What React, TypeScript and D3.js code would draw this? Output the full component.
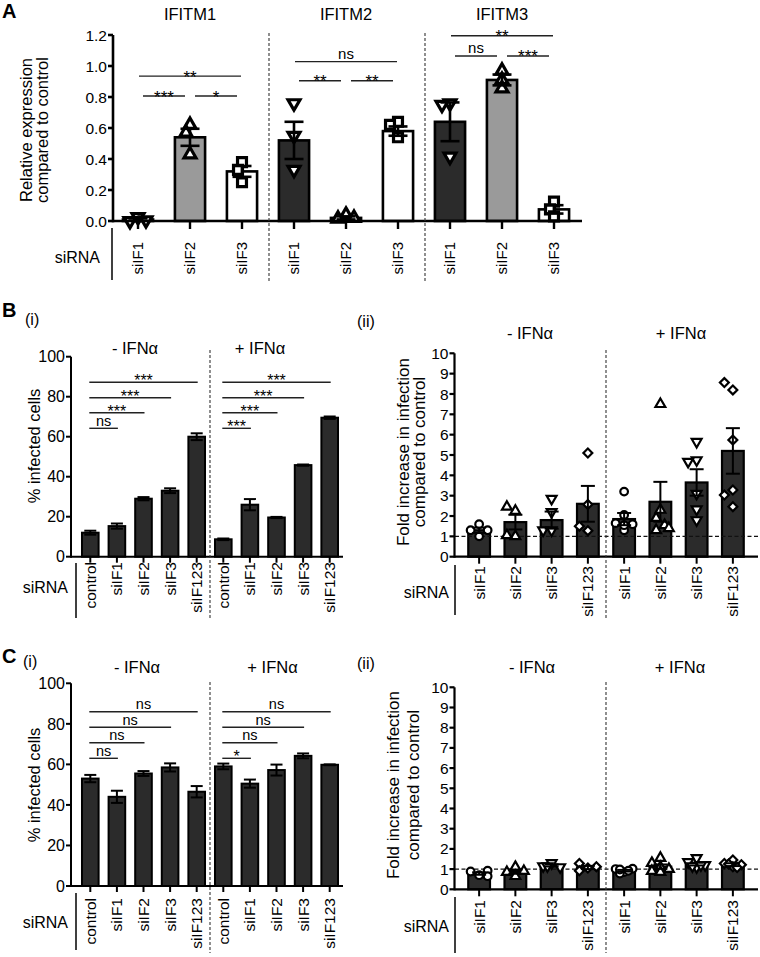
import React from "react";
import * as d3 from "d3";

const FONT = '"Liberation Sans", Arial, Helvetica, sans-serif';

// ---------------- Panel A data ----------------
const aGenes = ["IFITM1", "IFITM2", "IFITM3"];
const aSiRNA = ["siIF1", "siIF2", "siIF3"];
const aMeans = [
  [0.01, 0.54, 0.32],
  [0.52, 0.02, 0.58],
  [0.64, 0.91, 0.075],
];
const aSem = [
  [0.008, 0.055, 0.035],
  [0.12, 0.01, 0.03],
  [0.125, 0.035, 0.027],
];
const aPoints = [
  [[0.025, 0.0, 0.005], [0.62, 0.57, 0.43], [0.38, 0.33, 0.25]],
  [[0.76, 0.55, 0.33], [0.04, 0.015, 0.02], [0.64, 0.62, 0.54]],
  [[0.76, 0.75, 0.415], [0.97, 0.91, 0.855], [0.125, 0.075, 0.03]],
];
const aTicks = [0, 0.2, 0.4, 0.6, 0.8, 1.0, 1.2];
const aShapes = ["down", "up", "square"];
const aFills = ["#2b2b2b", "#9a9a9a", "#ffffff"];
// significance: gene, from, to, label, height (data units)
const aSigGene = [0, 0, 0, 1, 1, 1, 2, 2, 2];
const aSigFrom = [0, 0, 1, 0, 0, 1, 0, 0, 1];
const aSigTo = [2, 1, 2, 2, 1, 2, 2, 1, 2];
const aSigLabel = ["**", "***", "*", "ns", "**", "**", "**", "ns", "***"];
const aSigHeight = [0.935, 0.806, 0.806, 1.028, 0.905, 0.905, 1.195, 1.065, 1.065];

// ---------------- Panels B / C (i) data ----------------
const percCats = ["control", "siIF1", "siIF2", "siIF3", "siIF123"];
const percTicks = [0, 20, 40, 60, 80, 100];
const percSigTargets = [4, 3, 2, 1];

const bMinus = [12, 15.3, 29, 33, 60];
const bMinusSem = [1, 1.3, 0.8, 1.2, 1.7];
const bPlus = [8.7, 26, 19.6, 45.8, 69.5];
const bPlusSem = [0.4, 2.8, 0.3, 0.3, 0.6];
const bSigMinus = ["***", "***", "***", "ns"];
const bSigPlus = ["***", "***", "***", "***"];
const bSigHeights = [87.2, 79.5, 72, 64.2];

const cMinus = [53, 44, 55.5, 58.5, 46.5];
const cMinusSem = [1.8, 3, 1.2, 2, 2.8];
const cPlus = [59, 50.5, 57.2, 64.2, 59.8];
const cPlusSem = [1.4, 2, 2.7, 1.2, 0.2];
const cSigMinus = ["ns", "ns", "ns", "ns"];
const cSigPlus = ["ns", "ns", "ns", "*"];
const cSigHeights = [86, 78.3, 70.7, 63];

// ---------------- Panels B / C (ii) data ----------------
const foldCats = ["siIF1", "siIF2", "siIF3", "siIF123"];
const foldTicks = [0, 1, 2, 3, 4, 5, 6, 7, 8, 9, 10];
const foldShapes = ["circle", "up", "down", "diamond"];

const bFoldMinus = [1.3, 1.7, 1.8, 2.6];
const bFoldMinusSem = [0.13, 0.36, 0.42, 0.88];
const bFoldMinusPts = [
  [1.6, 1.0, 1.3, 1.3],
  [2.25, 2.45, 1.0, 1.05],
  [2.85, 2.2, 1.3, 1.3],
  [5.1, 2.57, 1.28, 1.5],
];
const bFoldPlus = [1.85, 2.7, 3.65, 5.2];
const bFoldPlusSem = [0.3, 0.98, 0.65, 1.12];
const bFoldPlusPts = [
  [3.2, 2.05, 1.3, 1.65, 1.6, 1.55],
  [7.5, 2.3, 1.9, 1.55, 1.3, 1.4],
  [5.65, 4.75, 4.67, 3.1, 2.33, 1.8],
  [8.2, 8.56, 5.74, 3.28, 3.03, 2.46],
];

const cFoldMinus = [0.78, 0.87, 1.18, 1.08];
const cFoldMinusSem = [0.06, 0.1, 0.05, 0.08];
const cFoldMinusPts = [
  [0.7, 0.88, 0.92, 0.65],
  [1.1, 0.85, 0.9, 0.65],
  [1.3, 1.15, 1.1, 1.15],
  [1.05, 1.28, 1.12, 0.92],
];
const cFoldPlus = [0.92, 1.12, 1.25, 1.22];
const cFoldPlusSem = [0.04, 0.11, 0.07, 0.07];
const cFoldPlusPts = [
  [0.85, 1.0, 1.02, 0.78, 0.98, 0.92],
  [1.55, 1.3, 1.1, 1.0, 0.9, 0.85],
  [1.55, 1.35, 1.2, 1.1, 1.15, 1.2],
  [1.45, 1.28, 1.22, 1.12, 1.25, 1.08],
];

// ---------------- helpers ----------------
function swarm(ys: number[], d: number, maxOff: number): number[] {
  const placed: { x: number; y: number }[] = [];
  const step = d * 0.5;
  const cands: number[] = [0];
  for (let k = 1; k * step <= maxOff + 0.01; k++) cands.push(-k * step, k * step);
  return ys.map((y) => {
    let best = 0;
    let bestD = -1;
    for (const off of cands) {
      const md = placed.length ? Math.min(...placed.map((p) => Math.hypot(p.x - off, p.y - y))) : Infinity;
      if (md >= d) {
        best = off;
        bestD = Infinity;
        break;
      }
      if (md > bestD + 0.5) {
        bestD = md;
        best = off;
      }
    }
    placed.push({ x: best, y });
    return best;
  });
}

function Marker({ shape, x, y, size, sw }: any) {
  const type =
    shape === "circle" ? d3.symbolCircle : shape === "square" || shape === "diamond" ? d3.symbolSquare : d3.symbolTriangle;
  const path = d3.symbol(type, size)() || "";
  const rot = shape === "down" ? 180 : shape === "diamond" ? 45 : 0;
  return (
    <path
      d={path}
      transform={`translate(${x},${y}) rotate(${rot})`}
      fill="#fff"
      stroke="#000"
      strokeWidth={sw}
      strokeLinejoin="miter"
    />
  );
}

function ErrorBar({ x, yA, yB, w, sw }: any) {
  return (
    <g stroke="#000" strokeWidth={sw}>
      <line x1={x} x2={x} y1={yA} y2={yB} />
      <line x1={x - w} x2={x + w} y1={yA} y2={yA} />
      <line x1={x - w} x2={x + w} y1={yB} y2={yB} />
    </g>
  );
}

function YAxis({ x, scale, ticks, fmt, fontSize, tickLen, sw }: any) {
  const [a, b] = scale.range();
  return (
    <g>
      <line x1={x} x2={x} y1={a + sw / 2} y2={b} stroke="#000" strokeWidth={sw} />
      {ticks.map((t: number) => (
        <g key={t}>
          <line x1={x - tickLen} x2={x} y1={scale(t)} y2={scale(t)} stroke="#000" strokeWidth={sw} />
          <text x={x - tickLen - 1} y={scale(t)} dy="0.36em" textAnchor="end" fontSize={fontSize}>
            {fmt(t)}
          </text>
        </g>
      ))}
    </g>
  );
}

function RotLabel({ x, top, text, fontSize }: any) {
  return (
    <text transform={`translate(${x},${top}) rotate(-90)`} textAnchor="end" dy="0.36em" fontSize={fontSize}>
      {text}
    </text>
  );
}

function Divider({ x, y1, y2 }: any) {
  return <line x1={x} x2={x} y1={y1} y2={y2} stroke="#333" strokeWidth={1.1} strokeDasharray="3,2" />;
}

function SigText({ x, y, label, starFont, starDy, nsFont, nsDy }: any) {
  const isNs = label === "ns";
  return (
    <text x={x} y={y + (isNs ? nsDy : starDy)} textAnchor="middle" fontSize={isNs ? nsFont : starFont}>
      {label}
    </text>
  );
}

// ---------------- Panel A ----------------
function PanelA() {
  const x = d3
    .scaleBand<number>()
    .domain(d3.range(9))
    .range([112, 580])
    .paddingInner(0.37)
    .paddingOuter(0.185);
  const y = d3.scaleLinear().domain([0, 1.2]).range([221, 35]);
  const bw = x.bandwidth();
  const cx = (i: number) => (x(i) as number) + bw / 2;
  const items = aGenes.flatMap((g, gi) =>
    aSiRNA.map((s, si) => ({ gi, si, idx: gi * 3 + si, label: s, m: aMeans[gi][si], e: aSem[gi][si], pts: aPoints[gi][si] }))
  );
  const sw = 2.6;
  return (
    <g>
      <text x={2} y={18} fontSize={20} fontWeight="bold">A</text>
      {aGenes.map((g, gi) => (
        <text key={g} x={cx(gi * 3 + 1)} y={20} textAnchor="middle" fontSize={16.5}>
          {g}
        </text>
      ))}
      {items.map((d) => (
        <rect
          key={"b" + d.idx}
          x={(x(d.idx) as number) + sw / 2}
          width={bw - sw}
          y={y(d.m)}
          height={y(0) - y(d.m)}
          fill={aFills[d.si]}
          stroke="#000"
          strokeWidth={sw}
        />
      ))}
      {items.map((d) => {
        const ys = d.pts.map((v) => y(v));
        const offs = swarm(ys, 8, 9);
        return (
          <g key={"p" + d.idx}>
            {ys.map((yy, k) => (
              <Marker key={k} shape={aShapes[d.si]} x={cx(d.idx) + offs[k]} y={yy} size={aShapes[d.si] === "square" ? 80 : 62} sw={3.2} />
            ))}
          </g>
        );
      })}
      {items.map((d) => (
        <ErrorBar key={"e" + d.idx} x={cx(d.idx)} yA={y(d.m + d.e)} yB={y(d.m - d.e)} w={9.5} sw={2.6} />
      ))}
      <YAxis x={113} scale={y} ticks={aTicks} fmt={d3.format(".1f")} fontSize={15.5} tickLen={5} sw={2.6} />
      <line x1={113} x2={582} y1={y(0)} y2={y(0)} stroke="#000" strokeWidth={2.6} />
      {items.map((d) => (
        <g key={"t" + d.idx}>
          <line x1={cx(d.idx)} x2={cx(d.idx)} y1={y(0)} y2={y(0) + 8} stroke="#000" strokeWidth={2.4} />
          <RotLabel x={cx(d.idx)} top={242} text={d.label} fontSize={15} />
        </g>
      ))}
      {aSigGene.map((g, k) => {
        const i = g * 3 + aSigFrom[k];
        const j = g * 3 + aSigTo[k];
        const inset = aSigTo[k] - aSigFrom[k] === 1 ? 5 : 1;
        const x1 = cx(i) + inset;
        const x2 = cx(j) - inset;
        const yy = y(aSigHeight[k]);
        return (
          <g key={"s" + k}>
            <line x1={x1} x2={x2} y1={yy} y2={yy} stroke="#222" strokeWidth={1.4} />
            <SigText x={(x1 + x2) / 2} y={yy} label={aSigLabel[k]} starFont={17} starDy={6.5} nsFont={15} nsDy={-2.5} />
          </g>
        );
      })}
      <g transform="translate(0,130)">
        <text transform="translate(32,0) rotate(-90)" textAnchor="middle" fontSize={16.5}>Relative expression</text>
        <text transform="translate(48,0) rotate(-90)" textAnchor="middle" fontSize={16.5}>compared to control</text>
      </g>
      <text x={100} y={263} textAnchor="end" fontSize={16}>siRNA</text>
      <line x1={112} x2={112} y1={228} y2={280} stroke="#000" strokeWidth={1.5} />
      <Divider x={(cx(2) + cx(3)) / 2 + 1} y1={33} y2={283} />
      <Divider x={(cx(5) + cx(6)) / 2 + 1} y1={33} y2={283} />
    </g>
  );
}

// ---------------- Percent panels ----------------
function PercentPanel(p: any) {
  const vals = [...p.minus, ...p.plus];
  const sems = [...p.minusSem, ...p.plusSem];
  const labels = [...percCats, ...percCats];
  const x = d3
    .scaleBand<number>()
    .domain(d3.range(10))
    .range([77, 343])
    .paddingInner(0.3)
    .paddingOuter(0.15);
  const y = d3.scaleLinear().domain([0, 100]).range([p.y0, p.y100]);
  const bw = x.bandwidth();
  const cx = (i: number) => (x(i) as number) + bw / 2;
  const sw = 2;
  const groups = [
    { base: 0, sig: p.sigMinus },
    { base: 5, sig: p.sigPlus },
  ];
  return (
    <g>
      {vals.map((v, i) => (
        <rect key={"b" + i} x={(x(i) as number) + sw / 2} width={bw - sw} y={y(v)} height={y(0) - y(v)} fill="#2b2b2b" stroke="#000" strokeWidth={sw} />
      ))}
      {vals.map((v, i) => (
        <ErrorBar key={"e" + i} x={cx(i)} yA={y(v + sems[i])} yB={y(v - sems[i])} w={6} sw={2} />
      ))}
      <YAxis x={71} scale={y} ticks={percTicks} fmt={(t: number) => String(t)} fontSize={16} tickLen={5} sw={2} />
      <line x1={71} x2={343} y1={y(0)} y2={y(0)} stroke="#000" strokeWidth={2} />
      {labels.map((l, i) => (
        <g key={"t" + i}>
          <line x1={cx(i)} x2={cx(i)} y1={y(0)} y2={y(0) + 6} stroke="#000" strokeWidth={2} />
          <RotLabel x={cx(i)} top={p.labelTop} text={l} fontSize={15.5} />
        </g>
      ))}
      {groups.map((g, gi) =>
        percSigTargets.map((t, k) => {
          const x1 = cx(g.base) - 1;
          const x2 = cx(g.base + t) + 1;
          const yy = y(p.sigHeights[k]);
          return (
            <g key={gi + "-" + k}>
              <line x1={x1} x2={x2} y1={yy} y2={yy} stroke="#222" strokeWidth={1.4} />
              <SigText x={(x1 + x2) / 2} y={yy} label={g.sig[k]} starFont={16} starDy={4} nsFont={14.5} nsDy={-2.3} />
            </g>
          );
        })
      )}
      <text x={2} y={p.letterY} fontSize={20} fontWeight="bold">{p.letter}</text>
      <text x={p.subX} y={p.subY} fontSize={16}>(i)</text>
      <text x={p.minusX} y={p.titleY} textAnchor="middle" fontSize={16.5}>- IFNα</text>
      <text x={p.plusX} y={p.titleY} textAnchor="middle" fontSize={16.5}>+ IFNα</text>
      <text transform={`translate(40,${p.labelY}) rotate(-90)`} textAnchor="middle" fontSize={16.5}>% infected cells</text>
      <text x={68} y={p.siY} textAnchor="end" fontSize={16}>siRNA</text>
      <line x1={76} x2={76} y1={p.vTop} y2={p.vBot} stroke="#000" strokeWidth={1.5} />
      <Divider x={(cx(4) + cx(5)) / 2} y1={p.divTop} y2={p.divBot} />
    </g>
  );
}

// ---------------- Fold panels ----------------
function FoldPanel(p: any) {
  const vals = [...p.minus, ...p.plus];
  const sems = [...p.minusSem, ...p.plusSem];
  const pts = [...p.minusPts, ...p.plusPts];
  const labels = [...foldCats, ...foldCats];
  const shapes = [...foldShapes, ...foldShapes];
  const x = d3
    .scaleBand<number>()
    .domain(d3.range(8))
    .range([461, 751])
    .paddingInner(0.34)
    .paddingOuter(0.17);
  const y = d3.scaleLinear().domain([0, 10]).range([p.y0, p.y10]);
  const bw = x.bandwidth();
  const cx = (i: number) => (x(i) as number) + bw / 2;
  const sw = 2.2;
  return (
    <g>
      {vals.map((v, i) => (
        <rect key={"b" + i} x={(x(i) as number) + sw / 2} width={bw - sw} y={y(v)} height={y(0) - y(v)} fill="#2b2b2b" stroke="#000" strokeWidth={sw} />
      ))}
      <line x1={455} x2={758} y1={y(1)} y2={y(1)} stroke="#111" strokeWidth={1.4} strokeDasharray="4,2.5" />
      {pts.map((arr: number[], i: number) => {
        const ys = arr.map((v) => y(v));
        const offs = swarm(ys, 8.5, 9);
        return (
          <g key={"p" + i}>
            {ys.map((yy, k) => (
              <Marker
                key={k}
                shape={shapes[i]}
                x={cx(i) + offs[k]}
                y={yy}
                size={shapes[i] === "circle" ? 46 : shapes[i] === "diamond" ? 40 : 42}
                sw={2.2}
              />
            ))}
          </g>
        );
      })}
      {vals.map((v, i) => (
        <ErrorBar key={"e" + i} x={cx(i)} yA={y(v + sems[i])} yB={y(v - sems[i])} w={7} sw={2} />
      ))}
      <YAxis x={454.5} scale={y} ticks={foldTicks} fmt={(t: number) => String(t)} fontSize={15.5} tickLen={5} sw={2.2} />
      <line x1={454.5} x2={758} y1={y(0)} y2={y(0)} stroke="#000" strokeWidth={2.2} />
      {labels.map((l, i) => (
        <g key={"t" + i}>
          <line x1={cx(i)} x2={cx(i)} y1={y(0)} y2={y(0) + 7} stroke="#000" strokeWidth={2} />
          <RotLabel x={cx(i)} top={p.labelTop} text={l} fontSize={15.5} />
        </g>
      ))}
      <text x={357} y={p.subY} fontSize={16}>(ii)</text>
      <text x={p.minusX} y={p.titleY} textAnchor="middle" fontSize={16.5}>- IFNα</text>
      <text x={p.plusX} y={p.titleY} textAnchor="middle" fontSize={16.5}>+ IFNα</text>
      <g transform={`translate(0,${p.labelY})`}>
        <text transform={`translate(${p.l1x},0) rotate(-90)`} textAnchor="middle" fontSize={17}>Fold increase in infection</text>
        <text transform={`translate(${p.l2x},0) rotate(-90)`} textAnchor="middle" fontSize={17}>compared to control</text>
      </g>
      <text x={449} y={p.siY} textAnchor="end" fontSize={16}>siRNA</text>
      <line x1={455} x2={455} y1={p.vTop} y2={p.vBot} stroke="#000" strokeWidth={1.5} />
      <Divider x={(cx(3) + cx(4)) / 2} y1={p.divTop} y2={p.divBot} />
    </g>
  );
}

export default function App() {
  return (
    <div style={{ position: "absolute", left: 0, top: 0 }}>
      <svg width={760} height={957} viewBox="0 0 760 957" style={{ display: "block", fontFamily: FONT, background: "#fff" }}>
        <rect x={0} y={0} width={760} height={957} fill="#fff" />
        <PanelA />
        <PercentPanel
          minus={bMinus} minusSem={bMinusSem} plus={bPlus} plusSem={bPlusSem}
          sigMinus={bSigMinus} sigPlus={bSigPlus} sigHeights={bSigHeights}
          y0={556.7} y100={356.7} labelTop={562}
          letter="B" letterY={317} subX={25} subY={325}
          minusX={135} plusX={260} titleY={354} labelY={446}
          siY={593} vTop={563} vBot={618} divTop={350} divBot={618}
        />
        <FoldPanel
          minus={bFoldMinus} minusSem={bFoldMinusSem} minusPts={bFoldMinusPts}
          plus={bFoldPlus} plusSem={bFoldPlusSem} plusPts={bFoldPlusPts}
          y0={556.7} y10={353.3} labelTop={566}
          subY={327} minusX={530} plusX={681} titleY={339}
          labelY={452} l1x={409} l2x={425}
          siY={598} vTop={565} vBot={615} divTop={350} divBot={618}
        />
        <PercentPanel
          minus={cMinus} minusSem={cMinusSem} plus={cPlus} plusSem={cPlusSem}
          sigMinus={cSigMinus} sigPlus={cSigPlus} sigHeights={cSigHeights}
          y0={886} y100={683.3} labelTop={898}
          letter="C" letterY={663} subX={23} subY={667}
          minusX={137} plusX={272.5} titleY={673} labelY={785}
          siY={928} vTop={893} vBot={950} divTop={682} divBot={953}
        />
        <FoldPanel
          minus={cFoldMinus} minusSem={cFoldMinusSem} minusPts={cFoldMinusPts}
          plus={cFoldPlus} plusSem={cFoldPlusSem} plusPts={cFoldPlusPts}
          y0={889.3} y10={687.3} labelTop={900}
          subY={669} minusX={532} plusX={680} titleY={673}
          labelY={785} l1x={399} l2x={419}
          siY={932} vTop={897} vBot={953} divTop={682} divBot={953}
        />
      </svg>
    </div>
  );
}
